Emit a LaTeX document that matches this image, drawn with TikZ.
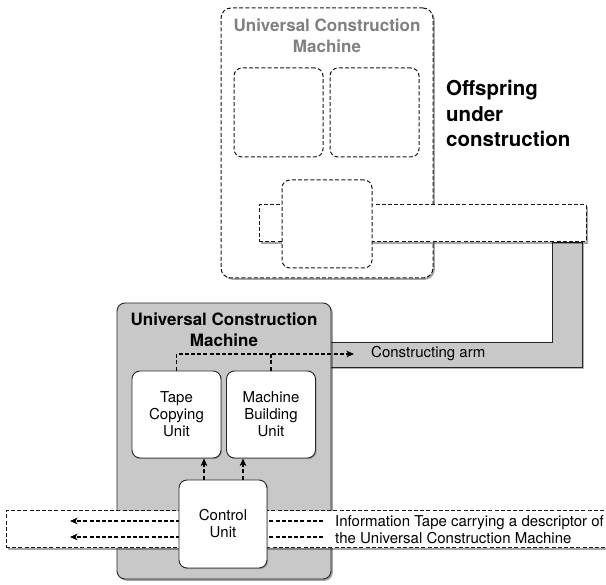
\documentclass[tikz,border=0pt]{standalone}
\usepackage{fontspec}
\setmainfont{TeX Gyre Heros}
\usetikzlibrary{arrows.meta,shadows}
\definecolor{machgray}{RGB}{200,200,200}
\definecolor{titlegray}{RGB}{128,128,128}
\tikzset{
  dsh/.style={dash pattern=on 4pt off 2.2pt, line width=1pt, draw=black!90},
  shad/.style={drop shadow={shadow xshift=1.8pt, shadow yshift=-1.8pt, fill=black, opacity=0.35}},
  lightshad/.style={drop shadow={shadow xshift=1.2pt, shadow yshift=-1.2pt, fill=black, opacity=0.2}},
  ghostbox/.style={dsh, fill=white, rounded corners=8pt, inner sep=0pt},
  unitbox/.style={draw=black!85, line width=0.9pt, fill=white, rounded corners=8pt,
    minimum width=89pt, minimum height=88pt, inner sep=0pt, align=center,
    font=\fontsize{15}{17}\selectfont, lightshad},
  tapebox/.style={dsh, fill=white, inner sep=0pt, shad},
  darr/.style={dash pattern=on 4pt off 2.2pt, line width=1.4pt, draw=black,
    -{Stealth[length=7.5pt,width=6.5pt,inset=2pt]}},
  dline/.style={dash pattern=on 4pt off 2.2pt, line width=1.4pt, draw=black},
  titletext/.style={font=\bfseries\fontsize{17}{21}\selectfont, align=center, inner sep=0pt},
  plaintext/.style={font=\fontsize{15}{17}\selectfont, align=left, inner sep=0pt, anchor=west},
}
\begin{document}
\begin{tikzpicture}[x=1pt,y=-1pt]
\useasboundingbox (0,0) rectangle (606,585);
% ---------- offspring machine ----------
\node[ghostbox, rounded corners=10pt, minimum width=212pt, minimum height=270pt, shad] (offm) at (327,143) {};
\node[titletext, text=titlegray] (offtitle) at (327,35.5) {Universal Construction\\Machine};
\node[ghostbox, minimum width=89pt, minimum height=89pt] (offl) at (278.5,112.5) {};
\node[ghostbox, minimum width=89pt, minimum height=89pt] (offr) at (374.5,112.5) {};
% constructing arm (below tape)
\coordinate (armA) at (318,342);
\coordinate (armB) at (552,342);
\coordinate (armC) at (552,242);
\coordinate (armD) at (582,242);
\coordinate (armE) at (582,367);
\coordinate (armF) at (318,367);
\path[fill=black, opacity=0.3] ([shift={(1.8pt,-1.8pt)}]armA) -- ([shift={(1.8pt,-1.8pt)}]armB) -- ([shift={(1.8pt,-1.8pt)}]armC) -- ([shift={(1.8pt,-1.8pt)}]armD) -- ([shift={(1.8pt,-1.8pt)}]armE) -- ([shift={(1.8pt,-1.8pt)}]armF) -- cycle;
\draw[fill=machgray, draw=black!85, line width=0.9pt] (armA) -- (armB) -- (armC) -- (armD) -- (armE) -- (armF) -- cycle;
% offspring tape
\node[tapebox, minimum width=327pt, minimum height=37pt] (offtape) at (422.5,223.5) {};
\node[ghostbox, minimum width=90pt, minimum height=88pt] (offc) at (327,224) {};
\node[font=\bfseries\fontsize{20.5}{25.5}\selectfont, align=left, anchor=west, inner sep=0pt] (offlabel) at (446,113.5) {Offspring\\under\\construction};
% ---------- parent machine ----------
\node[draw=black!85, line width=0.9pt, fill=machgray, rounded corners=8pt, minimum width=214pt, minimum height=276pt, inner sep=0pt, shad] (ucm) at (224,441) {};
\node[titletext] (ucmtitle) at (224,329.5) {Universal Construction\\Machine};
\node[unitbox, minimum height=87pt] (tcu) at (176.5,414.5) {Tape\\Copying\\Unit};
\node[unitbox, minimum height=87pt] (mbu) at (271,414.5) {Machine\\Building\\Unit};
\coordinate (armtip) at (354,354);
\draw[darr] (tcu.north) |- (armtip);
\draw[dline] (mbu.north) -- (mbu.north |- armtip);
\node[plaintext] (armlabel) at (371,354) {Constructing arm};
% information tape
\node[tapebox, minimum width=606pt, minimum height=37pt] (itape) at (309,529.5) {};
\coordinate (r1) at (323,521);
\coordinate (l1) at (70,521);
\coordinate (r2) at (323,537);
\coordinate (l2) at (70,537);
\draw[darr] (r1) -- (l1);
\draw[darr] (r2) -- (l2);
\node[plaintext] (tapelabel) at (335,529.5) {Information Tape carrying a descriptor of\\the Universal Construction Machine};
% control unit
\node[unitbox, minimum width=88pt] (cu) at (223,524) {Control\\Unit};
\draw[darr] ([xshift=-19pt]cu.north) -- ([xshift=-19pt]cu.north |- tcu.south);
\draw[darr] ([xshift=20pt]cu.north) -- ([xshift=20pt]cu.north |- mbu.south);
\end{tikzpicture}
\end{document}
